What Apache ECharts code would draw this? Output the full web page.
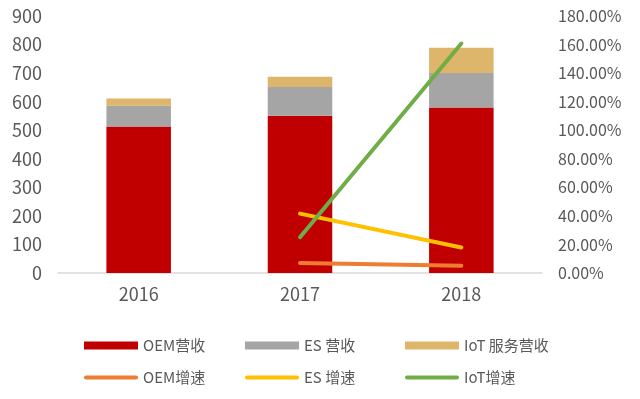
<!DOCTYPE html>
<html lang="zh">
<head>
  <meta charset="UTF-8">
  <title>营收与增速</title>
  <script src="https://cdn.jsdelivr.net/npm/echarts@6/dist/echarts.min.js"></script>
</head>
<body style="margin:0">
  <div id="app" style="width: 640px; height: 399px;"></div>
  <script>
    var years = ['2016', '2017', '2018']
    var oemRev = [513, 551, 580]
    var esRev = [73, 100, 120]
    var iotRev = [25, 36, 89]
    var oemGrowth = [null, 0.07, 0.051]
    var esGrowth = [null, 0.416, 0.179]
    var iotGrowth = [null, 0.251, 1.607]

    var font = 'Noto Sans CJK SC'
    var grey = '#595959'
    var lineIcon = 'path://M2,0 L52,0 A2,2 0 0 1 52,4 L2,4 A2,2 0 0 1 2,0 Z'
    var mCharts = echarts.init(document.querySelector('#app'))

    function lineSeries(name, data, color) {
      return {
        name: name,
        type: 'line',
        yAxisIndex: 1,
        data: data,
        symbol: 'none',
        lineStyle: { color: color, width: 4, cap: 'round' },
        itemStyle: { color: color }
      }
    }

    // one legend per column so that items line up like the original
    function legendCol(left, barName, lineName) {
      return {
        orient: 'vertical',
        left: left,
        top: 333,
        itemWidth: 54,
        itemHeight: 8,
        itemGap: 17,
        symbolKeepAspect: true,
        data: [
          { name: barName, icon: 'rect' },
          { name: lineName, icon: lineIcon }
        ],
        textStyle: { color: grey, fontSize: 15, fontFamily: font }
      }
    }

    var option = {
      animation: false,
      legend: [
        legendCol(79, 'OEM营收', 'OEM增速'),
        legendCol(240, 'ES 营收', 'ES 增速'),
        legendCol(400, 'IoT 服务营收', 'IoT增速')
      ],
      grid: { left: 58, right: 98, top: 16, bottom: 126 },
      xAxis: {
        type: 'category',
        data: years,
        axisLine: { lineStyle: { color: '#D9D9D9', width: 1.5 } },
        axisTick: { show: false },
        axisLabel: { color: grey, fontSize: 18, fontFamily: font, margin: 12 }
      },
      yAxis: [
        {
          type: 'value',
          min: 0,
          max: 900,
          interval: 100,
          splitLine: { show: false },
          axisLabel: { color: grey, fontSize: 18, fontFamily: font, margin: 16 }
        },
        {
          type: 'value',
          min: 0,
          max: 1.8,
          interval: 0.2,
          splitLine: { show: false },
          axisLine: { show: false },
          axisLabel: {
            color: grey, fontSize: 16, fontFamily: font, margin: 16,
            formatter: function (v) { return (v * 100).toFixed(2) + '%' }
          }
        }
      ],
      series: [
        { name: 'OEM营收', type: 'bar', stack: 'rev', barWidth: '40%', data: oemRev, itemStyle: { color: '#C00000' } },
        { name: 'ES 营收', type: 'bar', stack: 'rev', data: esRev, itemStyle: { color: '#A5A5A5' } },
        { name: 'IoT 服务营收', type: 'bar', stack: 'rev', data: iotRev, itemStyle: { color: '#DDB66B' } },
        lineSeries('OEM增速', oemGrowth, '#ED7D31'),
        lineSeries('ES 增速', esGrowth, '#FFC000'),
        lineSeries('IoT增速', iotGrowth, '#70AD47')
      ]
    }
    mCharts.setOption(option)
  </script>
</body>
</html>
